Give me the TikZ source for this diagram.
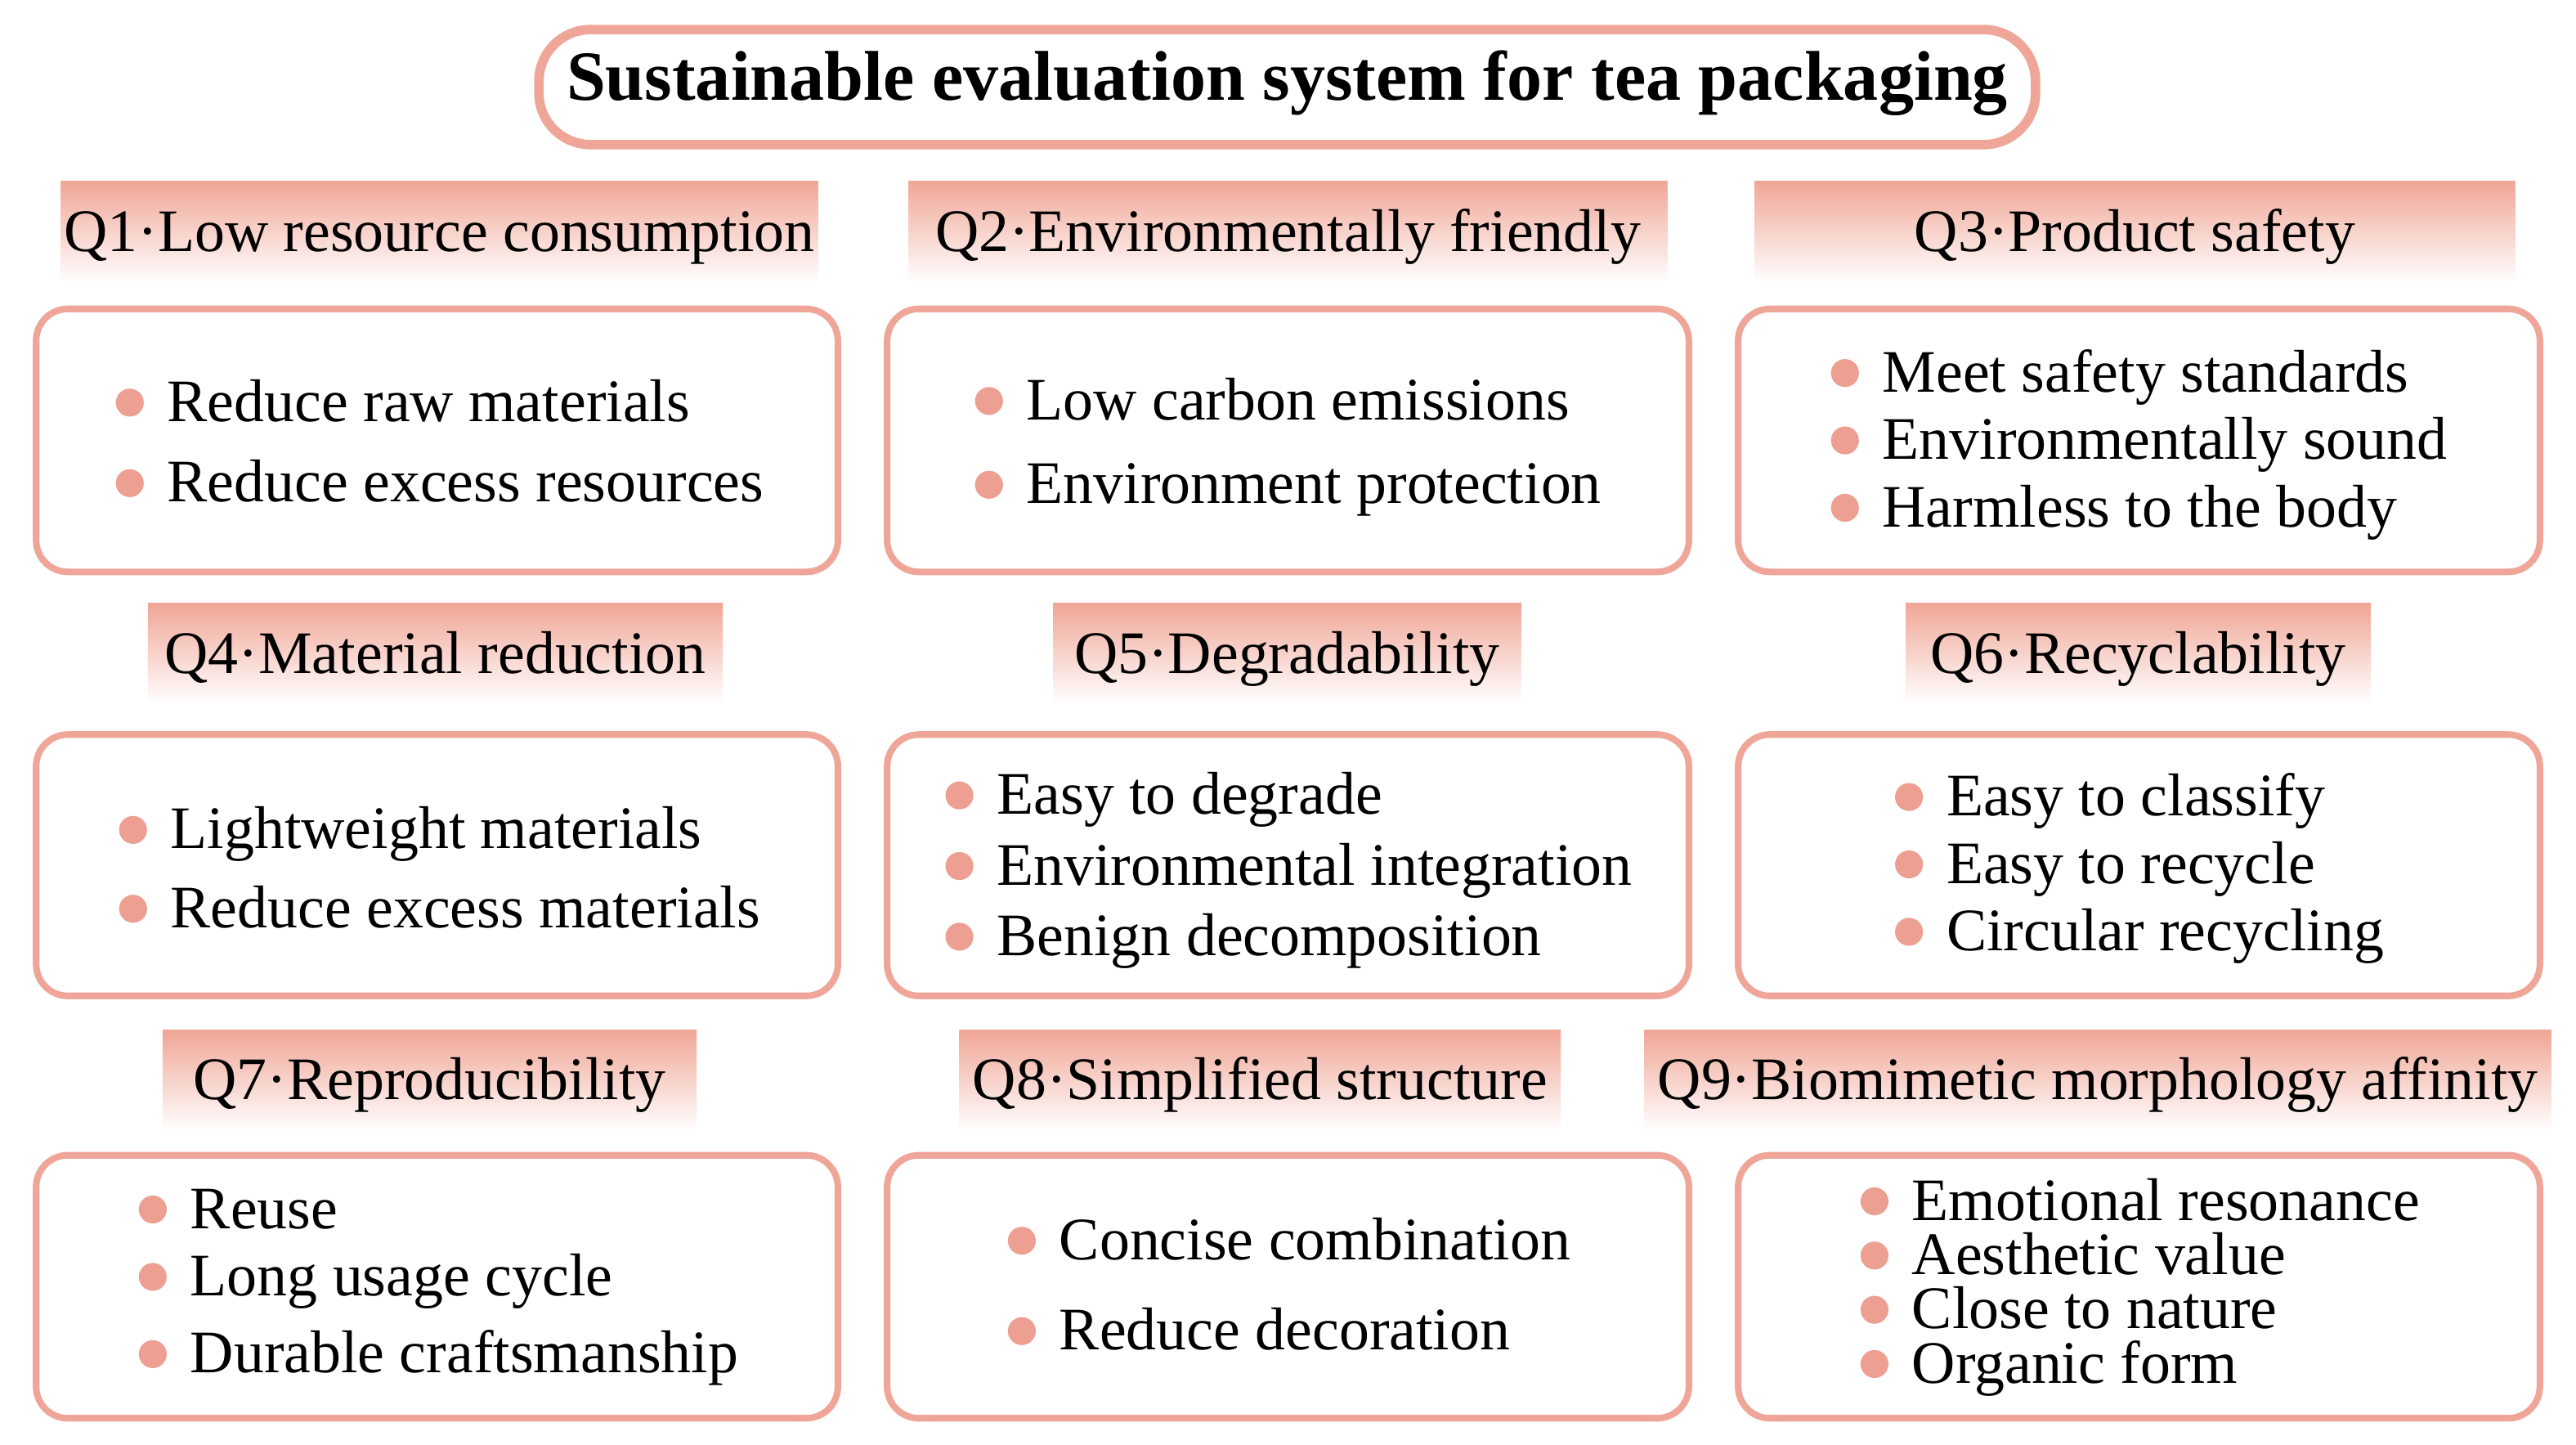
\documentclass[tikz,border=0pt]{standalone}
\usepackage{fontspec}
\setmainfont{Liberation Serif}
\definecolor{salmon}{RGB}{239,166,152}
\definecolor{bulc}{RGB}{237,160,146}
\definecolor{hdrtop}{RGB}{240,166,150}
\newcommand\ux{0.020096cm}
\newcommand\mybox[5]{\node[boxst, minimum width={(#4-#2)*\ux}, minimum height={(#5-#3)*\ux}] (#1) at ({(#2+#4)/2},{(#3+#5)/2}) {};}
\newcommand\myhdr[7]{\node[hdrst, minimum width={(#4-#2)*\ux}, minimum height={(#5-#3)*\ux}] (#1) at ({(#2+#4)/2},{(#3+#5)/2}) {};
  \node[hdrtxt] (#1t) at ({(#2+#4)/2},#6) {#7};}
\newcommand\myitem[4]{\node[bul] (#1b) at (#2,#3) {}; \node[itxt] (#1t) at (#2+22.5,#3+11.5) {#4};}
\begin{document}
\begin{tikzpicture}[x=0.020096cm,y=-0.020096cm,
  boxst/.style={draw=salmon, line width=2.3pt, rounded corners=11pt, fill=white, inner sep=0pt},
  hdrst/.style={inner sep=0pt, top color=hdrtop, bottom color=white, draw=none},
  hdrtxt/.style={anchor=base, inner sep=0pt, font=\fontsize{21}{25}\selectfont},
  itxt/.style={anchor=base west, inner sep=0pt, font=\fontsize{21}{25}\selectfont},
  bul/.style={circle, fill=bulc, inner sep=0pt, minimum size={17*0.020096cm}},
  titlest/.style={draw=salmon, line width=3.3pt, rounded corners=18pt, fill=white, inner sep=0pt}]
\useasboundingbox (0,0) rectangle (1568,879);
\fill[white] (0,0) rectangle (1568,879);
% title
\node[titlest, minimum width={(1239-328)*\ux}, minimum height={(88-18)*\ux}] (title) at ({(328+1239)/2},{(18+88)/2}) {};
\node[anchor=base, inner sep=0pt, font=\fontsize{24.5}{29}\selectfont\bfseries] (titlet) at (783.5,61) {Sustainable evaluation system for tea packaging};
% headers
\myhdr{h1}{37}{110}{498}{172}{153}{Q1·Low resource consumption}
\myhdr{h2}{553}{110}{1015}{172}{153}{Q2·Environmentally friendly}
\myhdr{h3}{1068}{110}{1531}{172}{153}{Q3·Product safety}
\myhdr{h4}{90}{367}{440}{428}{410}{Q4·Material reduction}
\myhdr{h5}{641}{367}{926}{428}{410}{Q5·Degradability}
\myhdr{h6}{1160}{367}{1443}{428}{410}{Q6·Recyclability}
\myhdr{h7}{99}{627}{424}{688}{669}{Q7·Reproducibility}
\myhdr{h8}{584}{627}{950}{688}{669}{Q8·Simplified structure}
\myhdr{h9}{1001}{627}{1553}{688}{669}{Q9·Biomimetic morphology affinity}
% boxes
\mybox{b1}{22}{188}{510}{348}
\mybox{b2}{540}{188}{1028}{348}
\mybox{b3}{1058}{188}{1546}{348}
\mybox{b4}{22}{447}{510}{606}
\mybox{b5}{540}{447}{1028}{606}
\mybox{b6}{1058}{447}{1546}{606}
\mybox{b7}{22}{703}{510}{863}
\mybox{b8}{540}{703}{1028}{863}
\mybox{b9}{1058}{703}{1546}{863}
% items
\myitem{i1a}{79}{245}{Reduce raw materials}
\myitem{i1b}{79}{294}{Reduce excess resources}
\myitem{i2a}{602}{244}{Low carbon emissions}
\myitem{i2b}{602}{295}{Environment protection}
\myitem{i3a}{1123}{227}{Meet safety standards}
\myitem{i3b}{1123}{268}{Environmentally sound}
\myitem{i3c}{1123}{309}{Harmless to the body}
\myitem{i4a}{81}{505}{Lightweight materials}
\myitem{i4b}{81}{553}{Reduce excess materials}
\myitem{i5a}{584}{484}{Easy to degrade}
\myitem{i5b}{584}{527}{Environmental integration}
\myitem{i5c}{584}{570}{Benign decomposition}
\myitem{i6a}{1162}{485}{Easy to classify}
\myitem{i6b}{1162}{526}{Easy to recycle}
\myitem{i6c}{1162}{567}{Circular recycling}
\myitem{i7a}{93}{736}{Reuse}
\myitem{i7b}{93}{777}{Long usage cycle}
\myitem{i7c}{93}{824}{Durable craftsmanship}
\myitem{i8a}{622}{755}{Concise combination}
\myitem{i8b}{622}{810}{Reduce decoration}
\myitem{i9a}{1141}{731}{Emotional resonance}
\myitem{i9b}{1141}{764}{Aesthetic value}
\myitem{i9c}{1141}{797}{Close to nature}
\myitem{i9d}{1141}{830}{Organic form}
\end{tikzpicture}
\end{document}
